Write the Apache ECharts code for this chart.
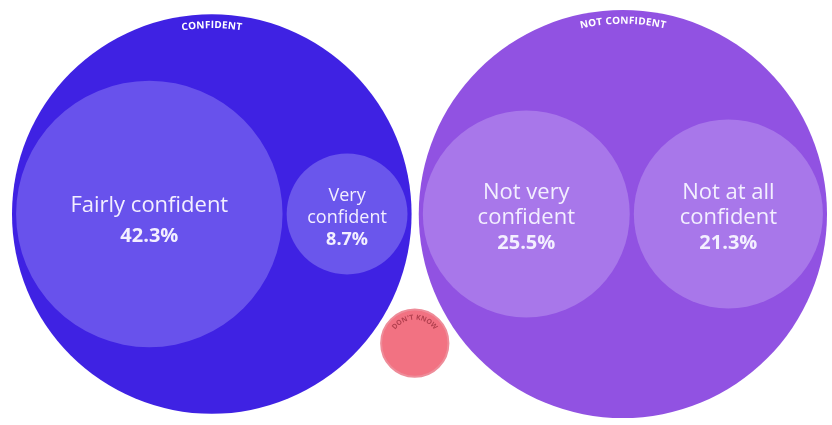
<!DOCTYPE html>
<html>
<head>
<meta charset="utf-8">
<script src="https://cdn.jsdelivr.net/npm/echarts@6/dist/echarts.min.js"></script>
<style>
  html, body { margin: 0; padding: 0; background: #ffffff; }
  #chart { width: 832px; height: 425px; }
</style>
</head>
<body>
<div id="chart"></div>
<script>
// Survey answers, grouped into confidence buckets (shares in %)
const groupNames = ['Confident', 'Not confident', "Don't know"];
const groupArcLabels = ['CONFIDENT', 'NOT CONFIDENT', "DON'T KNOW"];
const answerNames = ['Fairly confident', 'Very confident', 'Not very confident', 'Not at all confident'];
const answerLabels = ['Fairly confident', 'Very\nconfident', 'Not very\nconfident', 'Not at all\nconfident'];
const answerGroups = [0, 0, 1, 1];
const answerShares = [42.3, 8.7, 25.5, 21.3];
const dontKnowShare = 2.7;

const groupColors = ['#3f22e3', '#9152e2', '#f27282'];
const answerColors = ['#6852ec', '#6a56ec', '#a877ea', '#a877ea'];
const FONT = '"Open Sans", "Noto Sans", sans-serif';

// Simple circle packing: leaves in a row inside their bucket, the two big
// buckets side by side, the small bucket nestled below between them.
const GAP = 0.2;        // between leaves and to their bucket's rim
const GROUP_GAP = 0.35; // between buckets
function packLayout() {
  const groupKids = groupNames.map(() => []);
  answerNames.forEach((n, i) => groupKids[answerGroups[i]].push(i));
  const groupR = [];
  const local = [];
  groupNames.forEach((g, gi) => {
    const kids = groupKids[gi];
    if (!kids.length) { groupR[gi] = Math.sqrt(dontKnowShare); local[gi] = []; return; }
    const radii = kids.map(i => Math.sqrt(answerShares[i]));
    const width = radii.reduce((s, r) => s + 2 * r, 0) + GAP * (kids.length - 1);
    let x = -width / 2;
    local[gi] = kids.map((i, k) => {
      const c = x + radii[k];
      x += 2 * radii[k] + GAP;
      return { i: i, dx: c, r: radii[k] };
    });
    groupR[gi] = width / 2 + GAP;
  });
  const R0 = groupR[0], R1 = groupR[1], R2 = groupR[2];
  const d = R0 + R1 + GROUP_GAP;
  let c0 = 0, c1 = d;
  const mid = ((c0 - R0) + (c1 + R1)) / 2;
  c0 -= mid; c1 -= mid;
  const a = R0 + R2 + GROUP_GAP, b = R1 + R2 + GROUP_GAP;
  const t = (a * a - b * b + d * d) / (2 * d);
  const h = Math.sqrt(a * a - t * t);
  const centers = [[c0, 0], [c1, 0], [c0 + t, -h]];
  const rootR = (c1 + R1 - (c0 - R0)) / 2;

  const data = [];
  groupNames.forEach((g, gi) => {
    data.push([centers[gi][0], centers[gi][1], groupR[gi], 0, gi]);
  });
  groupNames.forEach((g, gi) => {
    local[gi].forEach(n => {
      data.push([centers[gi][0] + n.dx, centers[gi][1], n.r, 1, n.i]);
    });
  });
  return { data: data, rootR: rootR };
}

const packed = packLayout();
const W = 832, H = 425;
const FIT_WIDTH = 815;
const pxPerUnit = FIT_WIDTH / (2 * packed.rootR);
const xHalf = W / 2 / pxPerUnit, yHalf = H / 2 / pxPerUnit;
const shiftX = 3.5 / pxPerUnit, shiftY = 1.5 / pxPerUnit;

const measureCtx = document.createElement('canvas').getContext('2d');
function arcText(text, cx, cy, rho, font, color, spacing) {
  measureCtx.font = font;
  const chars = Array.from(text);
  const widths = chars.map(ch => measureCtx.measureText(ch).width + spacing);
  const total = widths.reduce((s, w) => s + w, 0) - spacing;
  let acc = 0;
  const start = -total / (2 * rho);
  return chars.map((ch, k) => {
    const th = start + (acc + (widths[k] - spacing) / 2) / rho;
    acc += widths[k];
    return {
      type: 'text',
      x: cx + rho * Math.sin(th),
      y: cy - rho * Math.cos(th),
      rotation: -th,
      style: {
        text: ch, fill: color, font: font,
        align: 'center', verticalAlign: 'middle'
      }
    };
  });
}

function renderItem(params, api) {
  const x = api.value(0), y = api.value(1), r = api.value(2);
  const kind = api.value(3), idx = api.value(4);
  const c = api.coord([x, y]);
  const rp = api.size([r, 0])[0];
  const children = [];
  if (kind === 0) {
    const isSmall = idx === 2;
    children.push({
      type: 'circle',
      shape: { cx: c[0], cy: c[1], r: rp },
      style: isSmall
        ? { fill: groupColors[idx], stroke: '#ee8c99', lineWidth: 2 }
        : { fill: groupColors[idx] }
    });
    const font = isSmall ? 'bold 7px ' + FONT : 'bold 10px ' + FONT;
    const arc = arcText(groupArcLabels[idx], c[0], c[1], rp - (isSmall ? 8 : 11), font,
      isSmall ? '#b2404f' : '#ffffff', isSmall ? 0.3 : 0.3);
    arc.forEach(e => children.push(e));
  } else {
    const small = idx === 1;
    const big = idx === 0;
    const label = answerLabels[idx].split('\n').map(s => '{n|' + s + '}').join('\n') +
      '\n{v|' + answerShares[idx].toFixed(1) + '%}';
    children.push({
      type: 'circle',
      shape: { cx: c[0], cy: c[1], r: rp },
      style: { fill: answerColors[idx] }
    });
    const lh = big ? 30 : (small ? 22 : 25);
    children.push({
      type: 'text',
      x: c[0], y: c[1] + (big ? 7 : 4),
      style: {
        text: label,
        align: 'center', verticalAlign: 'middle',
        rich: {
          n: { fontFamily: FONT, fontSize: small ? 18 : 22, lineHeight: lh, fill: '#f3efff' },
          v: { fontFamily: FONT, fontSize: small ? 18 : 20, fontWeight: 'bold', lineHeight: lh, fill: '#f3efff' }
        }
      }
    });
  }
  return { type: 'group', children: children };
}

const chart = echarts.init(document.getElementById('chart'), null, { renderer: 'canvas' });
chart.setOption({
  animation: false,
  backgroundColor: '#ffffff',
  grid: { left: 0, right: 0, top: 0, bottom: 0 },
  xAxis: { type: 'value', min: -xHalf - shiftX, max: xHalf - shiftX, show: false },
  yAxis: { type: 'value', min: -yHalf + shiftY, max: yHalf + shiftY, show: false },
  series: [{
    type: 'custom',
    name: 'Confidence',
    coordinateSystem: 'cartesian2d',
    renderItem: renderItem,
    encode: { x: 0, y: 1 },
    data: packed.data,
    silent: true
  }]
});
</script>
</body>
</html>
